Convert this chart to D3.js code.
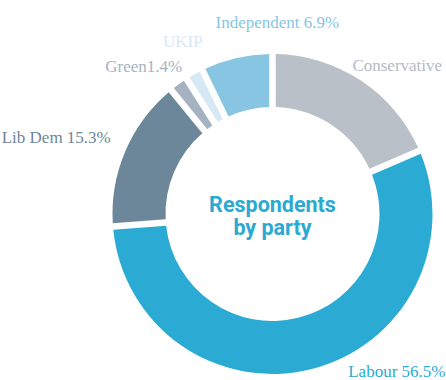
<!DOCTYPE html>
<html>
<head>
<meta charset="utf-8">
<script src="https://cdn.jsdelivr.net/npm/d3@7"></script>
<style>
  body { margin: 0; background: #fff; }
  svg { display: block; }
  .label { font-family: "Liberation Serif", "DejaVu Serif", serif; font-size: 17px; }
  .title { font-family: "Roboto", sans-serif; font-weight: bold; font-size: 21.5px; }
</style>
</head>
<body>
<svg id="chart" width="446" height="380"></svg>
<script>
// share of respondents by party
const parties = ["Conservative", "Labour", "Lib Dem", "Green", "UKIP", "Independent"];
const shares = [18.6, 56.5, 15.3, 1.4, 1.3, 6.9];
const labels = ["Conservative", "Labour 56.5%", "Lib Dem 15.3%", "Green1.4%", "UKIP", "Independent 6.9%"];
const titleLines = ["Respondents", "by party"];

const colors = ["#b9c0c7", "#2babd4", "#6c8799", "#a5b3c0", "#d6e8f3", "#87c5e2"];
const textColors = ["#b3bbc3", "#2babd4", "#6c8799", "#a5b3c0", "#d9e9f3", "#87c5e2"];

// label nudges from the label ring (hand placed in the original)
const labelPlace = {
    "Conservative": { anchor: "start", dx: -18, dy: 6 },
    "Labour": { anchor: "start", dx: 33, dy: -10 },
    "Lib Dem": { anchor: "end", dx: 2, dy: -1 },
    "Green": { anchor: "end", dx: 14, dy: 2 },
    "UKIP": { anchor: "end", dx: 17, dy: -12 },
    "Independent": { anchor: "start", dx: -17, dy: -13 }
};

function renderDonut() {
    let svg = d3.select("#chart"),
        cx = 272.5,
        cy = 214,
        outer = 160,
        inner = 107,
        g = svg.append("g").attr("transform", "translate(" + cx + "," + cy + ")");

    let data = parties.map(function (p, i) {
        return { name: p, value: shares[i], label: labels[i], i: i };
    });

    let pie = d3.pie()
        .sort(null)
        .value(function (d) { return d.value; })
        .padAngle(0.034);

    let arc = d3.arc()
        .innerRadius(inner)
        .outerRadius(outer);

    let labelArc = d3.arc()
        .innerRadius(178)
        .outerRadius(178);

    let arcs = pie(data);

    g.selectAll(".slice")
        .data(arcs)
        .enter().append("path")
        .attr("class", "slice")
        .attr("d", arc)
        .attr("fill", function (d) { return colors[d.data.i]; });

    g.selectAll(".label")
        .data(arcs)
        .enter().append("text")
        .attr("class", "label")
        .attr("x", function (d) { return labelArc.centroid(d)[0] + labelPlace[d.data.name].dx; })
        .attr("y", function (d) { return labelArc.centroid(d)[1] + labelPlace[d.data.name].dy; })
        .attr("text-anchor", function (d) { return labelPlace[d.data.name].anchor; })
        .attr("fill", function (d) { return textColors[d.data.i]; })
        .text(function (d) { return d.data.label; });

    g.selectAll(".title")
        .data(titleLines)
        .enter().append("text")
        .attr("class", "title")
        .attr("text-anchor", "middle")
        .attr("fill", "#2aa9d3")
        .attr("x", 0)
        .attr("y", function (d, i) { return -2 + i * 23; })
        .text(function (d) { return d; });
}

renderDonut();
</script>
</body>
</html>
